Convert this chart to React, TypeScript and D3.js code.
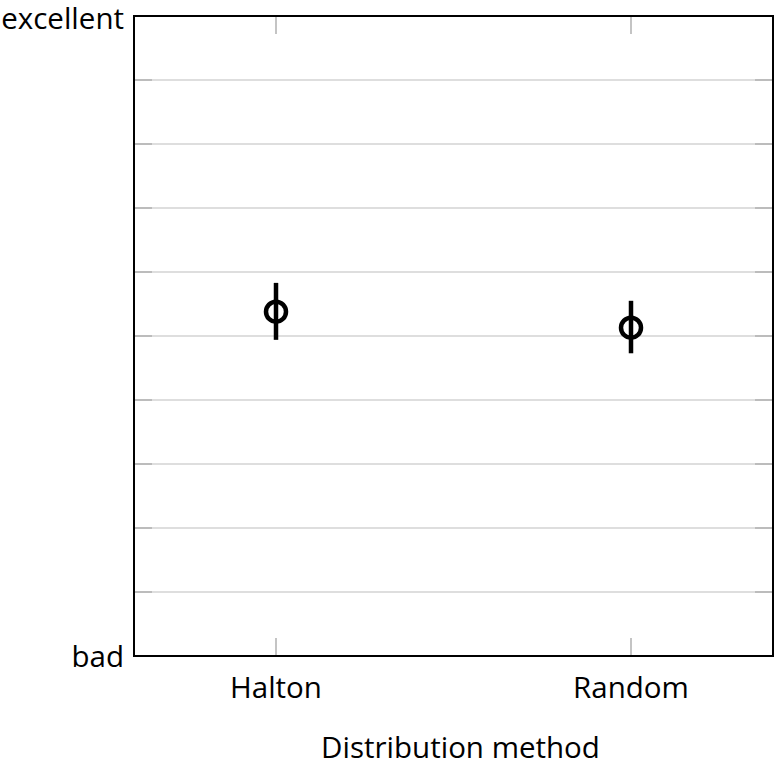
import React from "react";
import * as d3 from "d3";

const categories = ["Halton", "Random"];
const means = [5.38, 5.13];
const upper = [5.83, 5.55];
const lower = [4.94, 4.73];
const yTickValues = [0, 1, 2, 3, 4, 5, 6, 7, 8, 9, 10];
const yTickLabels: Record<number, string> = { 0: "bad", 10: "excellent" };
const xTitle = "Distribution method";

export default function App() {
  const W = 775, H = 768;
  const left = 134, right = 773, top = 16, bottom = 656;
  const x = d3.scalePoint<string>().domain(categories).range([left, right]).padding(0.4);
  const y = d3.scaleLinear().domain([0, 10]).range([bottom, top]);
  const font = "'Open Sans', sans-serif";
  const fs = 29.5;
  const tickLen = 18;
  return (
    <svg width={W} height={H} style={{ position: "absolute", left: 0, top: 0, background: "#fff" }}>
      {yTickValues.map((v) => (
        <g key={"g" + v}>
          {v > 0 && v < 10 && (
            <line x1={left} x2={right} y1={y(v)} y2={y(v)} stroke="#d3d3d3" strokeWidth={1.5} />
          )}
          <line x1={left} x2={left + tickLen} y1={y(v)} y2={y(v)} stroke="#b0b0b0" strokeWidth={1.5} />
          <line x1={right - tickLen} x2={right} y1={y(v)} y2={y(v)} stroke="#b0b0b0" strokeWidth={1.5} />
          {yTickLabels[v] && (
            <text x={124} y={y(v) + (v === 10 ? 3 : 1)} dy="0.35em" textAnchor="end" fontFamily={font} fontSize={fs} fill="#000">
              {yTickLabels[v]}
            </text>
          )}
        </g>
      ))}
      {categories.map((c) => (
        <g key={"x" + c}>
          <line x1={x(c)} x2={x(c)} y1={top} y2={top + tickLen} stroke="#b0b0b0" strokeWidth={1.5} />
          <line x1={x(c)} x2={x(c)} y1={bottom - tickLen} y2={bottom} stroke="#b0b0b0" strokeWidth={1.5} />
          <text x={x(c)} y={688} dy="0.35em" textAnchor="middle" fontFamily={font} fontSize={fs} fill="#000">
            {c}
          </text>
        </g>
      ))}
      <rect x={left} y={top} width={right - left} height={bottom - top} fill="none" stroke="#000" strokeWidth={2} />
      {categories.map((c, i) => (
        <g key={"p" + c}>
          <line x1={x(c)} x2={x(c)} y1={y(upper[i])} y2={y(lower[i])} stroke="#000" strokeWidth={4.5} />
          <circle cx={x(c)} cy={y(means[i])} r={10} fill="#fff" stroke="#000" strokeWidth={4.5} />
          <line x1={x(c)} x2={x(c)} y1={y(means[i]) - 10} y2={y(means[i]) + 10} stroke="#000" strokeWidth={4.5} />
        </g>
      ))}
      <text x={(left + right) / 2 + 7} y={748} dy="0.35em" textAnchor="middle" fontFamily={font} fontSize={fs} fill="#000">
        {xTitle}
      </text>
    </svg>
  );
}
